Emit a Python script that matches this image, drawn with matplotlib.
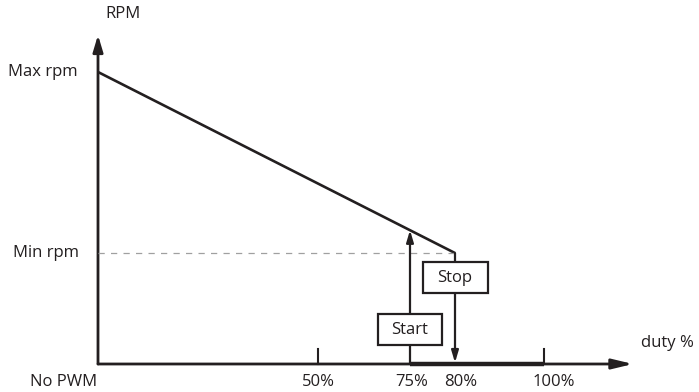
import numpy as np
import matplotlib
matplotlib.use("Agg")
import matplotlib.pyplot as plt
from matplotlib.patches import FancyArrowPatch, Rectangle
from matplotlib.transforms import IdentityTransform

plt.rcParams['font.family'] = ['Open Sans', 'DejaVu Sans']

# ---- data ----
duty_ticks = [50, 75, 80, 100]
duty_tick_labels = ["50%", "75%", "80%", "100%"]
curve_duty = [0, 80]
max_rpm = 100
min_rpm = 38
start_duty = 75
stop_duty = 80
axis_end_duty = 120

# ---- schematic (non-linear) duty axis layout ----
anchor_pct = np.array([0, 50, 75, 80, 100], dtype=float)
anchor_pos = np.array([0, 220, 312, 357, 446], dtype=float)
S0 = (anchor_pos[1] - anchor_pos[0]) / (anchor_pct[1] - anchor_pct[0])
S1 = (anchor_pos[-1] - anchor_pos[-2]) / (anchor_pct[-1] - anchor_pct[-2])

def fwd(x):
    x = np.asarray(x, dtype=float)
    y = np.interp(x, anchor_pct, anchor_pos)
    y = np.where(x < anchor_pct[0], anchor_pos[0] + (x - anchor_pct[0]) * S0, y)
    y = np.where(x > anchor_pct[-1], anchor_pos[-1] + (x - anchor_pct[-1]) * S1, y)
    return y

def inv(p):
    p = np.asarray(p, dtype=float)
    x = np.interp(p, anchor_pos, anchor_pct)
    x = np.where(p < anchor_pos[0], anchor_pct[0] + (p - anchor_pos[0]) / S0, x)
    x = np.where(p > anchor_pos[-1], anchor_pct[-1] + (p - anchor_pos[-1]) / S1, x)
    return x

W, H = 699, 392
fig = plt.figure(figsize=(W / 100, H / 100), dpi=100)
ax = fig.add_axes([0, 0, 1, 1])
ax.set_xscale('function', functions=(fwd, inv))
ppu = (364 - 72) / max_rpm
ax.set_xlim(float(inv(-98)), float(inv(W - 98)))
ax.set_ylim(-(H - 364) / ppu, 364 / ppu)
ax.axis('off')

black = '#231f20'
fs = 12
PT = 0.72  # points per pixel at 100 dpi

# axes with arrows
y_top = (364 - 35) / ppu
ax.add_patch(FancyArrowPatch((0, 0), (0, y_top), arrowstyle='-|>,head_length=1.0,head_width=0.3',
                             mutation_scale=10, lw=2, color=black, shrinkA=0, shrinkB=0))
ax.add_patch(FancyArrowPatch((0, 0), (axis_end_duty, 0), arrowstyle='-|>,head_length=1.25,head_width=0.3',
                             mutation_scale=10, lw=2, color=black, shrinkA=0, shrinkB=0))
ax.plot([start_duty, duty_ticks[-1]], [0, 0], color=black, lw=3.2, solid_capstyle='butt', zorder=3)

# ticks
tick_len = 15 / ppu
for t in [duty_ticks[0], duty_ticks[-1]]:
    ax.plot([t, t], [0, tick_len], color=black, lw=1.5)

# tick labels
label_dx = [0, 2, 6, 10]
for t, lab, dx in zip(duty_ticks, duty_tick_labels, label_dx):
    ax.annotate(lab, (t, 0), xytext=(dx * PT, -18 * PT), textcoords='offset points',
                ha='center', va='center', fontsize=fs, color=black)
ax.annotate("No PWM", (0, 0), xytext=(-34 * PT, -18 * PT), textcoords='offset points',
            ha='center', va='center', fontsize=fs, color=black)

# y labels
ax.annotate("Max rpm", (0, max_rpm), xytext=(-20 * PT, 0), textcoords='offset points',
            ha='right', va='center', fontsize=fs, color=black)
ax.annotate("Min rpm", (0, min_rpm), xytext=(-19 * PT, 0), textcoords='offset points',
            ha='right', va='center', fontsize=fs, color=black)
ax.annotate("RPM", (0, y_top), xytext=(25 * PT, 21 * PT), textcoords='offset points',
            ha='center', va='center', fontsize=fs, color=black)
ax.annotate("duty %", (axis_end_duty, 0), xytext=(34 * PT, 21 * PT), textcoords='offset points',
            ha='center', va='center', fontsize=fs, color=black)

# curve
ax.plot(curve_duty, [max_rpm, min_rpm], color=black, lw=1.9, solid_capstyle='butt')
# dashed min rpm line
ax.plot([0, stop_duty], [min_rpm, min_rpm], color='#a0a0a0', lw=0.9, dashes=(5, 5))

# start arrow (up to the curve)
start_rpm = max_rpm + (min_rpm - max_rpm) * (fwd(start_duty) - fwd(curve_duty[0])) / (fwd(curve_duty[1]) - fwd(curve_duty[0]))
ax.add_patch(FancyArrowPatch((start_duty, 0), (start_duty, float(start_rpm)),
                             arrowstyle='-|>,head_length=1.0,head_width=0.3', mutation_scale=7,
                             lw=1.6, color=black, shrinkA=0, shrinkB=0, zorder=2))
# stop arrow (down to the axis)
ax.add_patch(FancyArrowPatch((stop_duty, min_rpm), (stop_duty, 0),
                             arrowstyle='-|>,head_length=1.0,head_width=0.3', mutation_scale=7,
                             lw=1.6, color=black, shrinkA=0, shrinkB=1, zorder=2))

def label_box(xd, y_px, text, w, h):
    cx, _ = ax.transData.transform((xd, 0))
    cy = H - y_px
    ax.add_patch(Rectangle((cx - w / 2, cy - h / 2), w, h, transform=IdentityTransform(),
                           fc='white', ec=black, lw=1.6, zorder=4))
    ax.text(cx, cy - 1, text, transform=IdentityTransform(), ha='center', va='center',
            fontsize=fs, color=black, zorder=5)

label_box(start_duty, 329, "Start", 64, 31)
label_box(stop_duty, 277, "Stop", 65, 31)

fig.savefig('out.png', dpi=100)
